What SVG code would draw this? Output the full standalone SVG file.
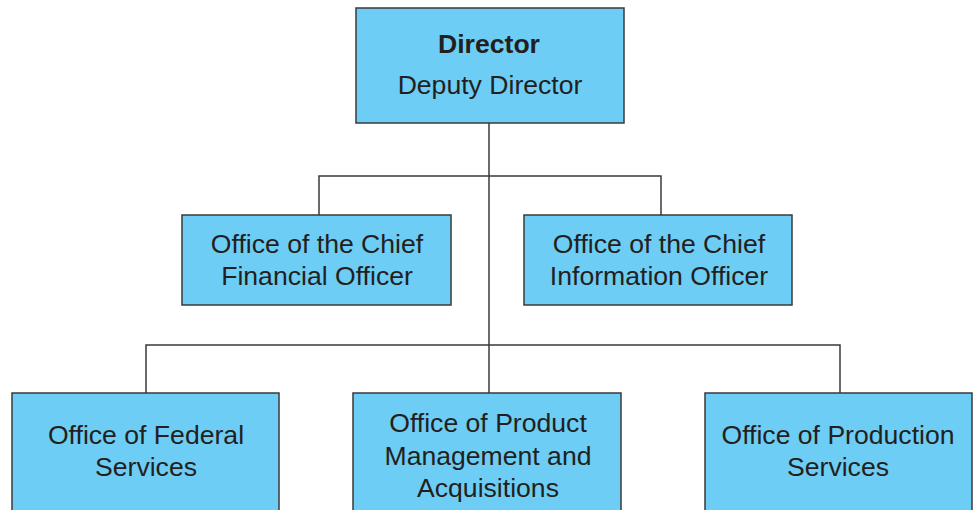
<svg xmlns="http://www.w3.org/2000/svg" width="976" height="510" viewBox="0 0 976 510">
<style>
.box{fill:#6dcdf4;stroke:#3a3a3a;stroke-width:1.5}
.t{font-family:"Liberation Sans",Arial,sans-serif;font-size:26.6px;fill:#231f20;text-anchor:middle}
.b{font-weight:bold}
.c{fill:none;stroke:#3a3a3a;stroke-width:1.5}
</style>
<rect width="976" height="510" fill="#ffffff"/>
<g id="connectors">
<path class="c" d="M489 123V393"/>
<path class="c" d="M319 215V176H661V215"/>
<path class="c" d="M146 393V345H840V393"/>
</g>
<g id="director">
<rect class="box" x="356" y="8" width="268" height="115"/>
<text class="t b" x="489" y="53">Director</text>
<text class="t" x="490" y="94">Deputy Director</text>
</g>
<g id="cfo">
<rect class="box" x="182" y="215" width="269" height="90"/>
<text class="t" x="317" y="253">Office of the Chief</text>
<text class="t" x="317" y="285">Financial Officer</text>
</g>
<g id="cio">
<rect class="box" x="524" y="215" width="268" height="90"/>
<text class="t" x="659" y="253">Office of the Chief</text>
<text class="t" x="659" y="285">Information Officer</text>
</g>
<g id="federal">
<rect class="box" x="12" y="393" width="267" height="125"/>
<text class="t" x="146" y="444">Office of Federal</text>
<text class="t" x="146" y="476">Services</text>
</g>
<g id="product">
<rect class="box" x="353" y="393" width="268" height="125"/>
<text class="t" x="488" y="432">Office of Product</text>
<text class="t" x="488" y="465">Management and</text>
<text class="t" x="488" y="497">Acquisitions</text>
</g>
<g id="production">
<rect class="box" x="705" y="393" width="267" height="125"/>
<text class="t" x="838" y="444">Office of Production</text>
<text class="t" x="838" y="476">Services</text>
</g>
</svg>
